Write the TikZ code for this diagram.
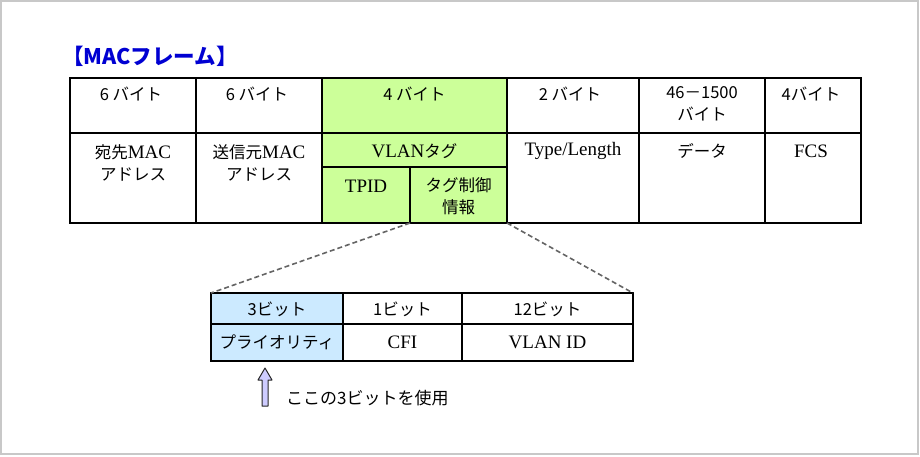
\documentclass[tikz,border=0pt]{standalone}
\usepackage{fontspec}
\setmainfont{Liberation Serif}
\newfontfamily\jp{Noto Sans CJK JP}
\newcommand\lat[1]{{\rmfamily\fontsize{19}{22}\selectfont #1}}
\definecolor{tagGreen}{RGB}{204,255,153}
\definecolor{prioBlue}{RGB}{204,234,255}
\definecolor{arrowFill}{RGB}{206,204,255}
\definecolor{titleBlue}{RGB}{0,0,210}
\definecolor{frameGray}{RGB}{200,200,200}
\definecolor{dashGray}{RGB}{100,100,100}
\begin{document}
\begin{tikzpicture}[x=1pt,y=-1pt,
  cell/.style={draw=black, line width=1.5pt, inner sep=0pt, outer sep=0pt},
  txt/.style={inner sep=0pt, align=center, font=\jp\fontsize{16.5}{22}\selectfont},
  zoomline/.style={draw=dashGray, line width=1.6pt, dash pattern=on 5pt off 3pt}]
\useasboundingbox (0,0) rectangle (920,456);
\draw[frameGray, line width=2pt] (1,1) rectangle (918,454);
% title
\node[anchor=west, inner sep=0pt, text=titleBlue, font=\jp\bfseries\fontsize{21.5}{22}\selectfont] (title) at (62,56) {【MACフレーム】};
% top row
\node[cell, minimum width=126pt, minimum height=55pt] (c1) at (133,105.5) {};
\node[cell, minimum width=126pt, minimum height=55pt] (c2) at (259,105.5) {};
\node[cell, fill=tagGreen, minimum width=185pt, minimum height=55pt] (c3) at (414.5,105.5) {};
\node[cell, minimum width=132pt, minimum height=55pt] (c4) at (573,105.5) {};
\node[cell, minimum width=126pt, minimum height=55pt] (c5) at (702,105.5) {};
\node[cell, minimum width=96pt, minimum height=55pt] (c6) at (813,105.5) {};
% second row
\node[cell, minimum width=126pt, minimum height=90pt] (d1) at (133,178) {};
\node[cell, minimum width=126pt, minimum height=90pt] (d2) at (259,178) {};
\node[cell, fill=tagGreen, minimum width=185pt, minimum height=34pt] (vlan) at (414.5,150) {};
\node[cell, fill=tagGreen, minimum width=88pt, minimum height=56pt] (tpid) at (366,195) {};
\node[cell, fill=tagGreen, minimum width=97pt, minimum height=56pt] (tagctl) at (458.5,195) {};
\node[cell, minimum width=132pt, minimum height=90pt] (d4) at (573,178) {};
\node[cell, minimum width=126pt, minimum height=90pt] (d5) at (702,178) {};
\node[cell, minimum width=96pt, minimum height=90pt] (d6) at (813,178) {};
% top texts
\node[txt] (t1) at (131,94) {6 バイト};
\node[txt] (t2) at (257,94) {6 バイト};
\node[txt] (t3) at (414.5,94) {4 バイト};
\node[txt] (t4) at (570,94) {2 バイト};
\node[txt] (t5) at (702,103.5) {46－1500\\バイト};
\node[txt] (t6) at (811,94) {4バイト};
\node[txt] (u1) at (133,163) {宛先\lat{MAC}\\アドレス};
\node[txt] (u2) at (259,163) {送信元\lat{MAC}\\アドレス};
\node[txt] (uv) at (414.5,151) {\lat{VLAN}タグ};
\node[txt] (ut) at (366,186) {\lat{TPID}};
\node[txt] (uc) at (458.5,196) {タグ制御\\情報};
\node[txt] (u4) at (573,151) {\lat{Type/Length}};
\node[txt] (u5) at (702,151) {データ};
\node[txt] (u6) at (811,151) {\lat{FCS}};
% bottom table
\node[cell, fill=prioBlue, minimum width=132pt, minimum height=31pt] (b1) at (277,308.5) {};
\node[cell, minimum width=119pt, minimum height=31pt] (b2) at (402.5,308.5) {};
\node[cell, minimum width=171pt, minimum height=31pt] (b3) at (547.5,308.5) {};
\node[cell, fill=prioBlue, minimum width=132pt, minimum height=37pt] (e1) at (277,342.5) {};
\node[cell, minimum width=119pt, minimum height=37pt] (e2) at (402.5,342.5) {};
\node[cell, minimum width=171pt, minimum height=37pt] (e3) at (547.5,342.5) {};
\node[txt] (s1) at (277,309) {3ビット};
\node[txt] (s2) at (402.5,309) {1ビット};
\node[txt] (s3) at (547.5,309) {12ビット};
\node[txt] (p1) at (277,342) {プライオリティ};
\node[txt] (p2) at (402.5,342) {\lat{CFI}};
\node[txt] (p3) at (547.5,342) {\lat{VLAN ID}};
% zoom lines
\draw[zoomline] (tagctl.south west) -- (b1.north west);
\draw[zoomline] (tagctl.south east) -- (b3.north east);
% arrow
\draw[fill=arrowFill, draw=black!85, line width=1pt, line join=round]
  (265,368) -- (272,380) -- (268,380) -- (268,406) -- (262,406) -- (262,380) -- (258,380) -- cycle;
\node[anchor=west, inner sep=0pt, font=\jp\fontsize{17}{20}\selectfont] (note) at (286,398) {ここの3ビットを使用};
\end{tikzpicture}
\end{document}
